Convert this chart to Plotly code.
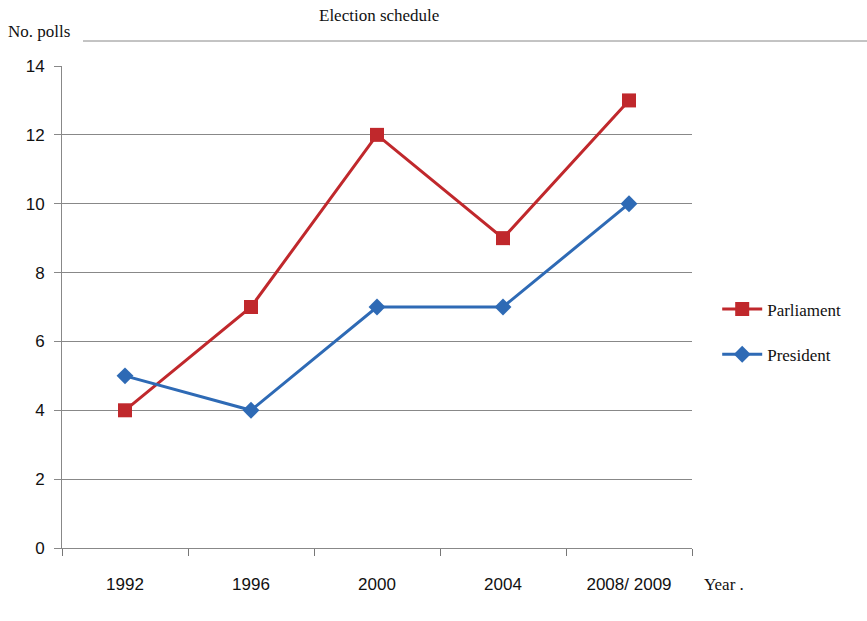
import plotly.graph_objects as go

years = ["1992", "1996", "2000", "2004", "2008/ 2009"]
parliament = [4, 7, 12, 9, 13]
president = [5, 4, 7, 7, 10]

fig = go.Figure()
fig.add_trace(go.Scatter(
    x=years, y=parliament, name="Parliament", mode="lines+markers",
    line=dict(color="#C0282C", width=3),
    marker=dict(symbol="square", size=14, color="#C0282C"),
    legendgroup="a"))
fig.add_trace(go.Scatter(
    x=years, y=president, name="President", mode="lines+markers",
    line=dict(color="#2E6AB5", width=3),
    marker=dict(symbol="diamond", size=13, color="#2E6AB5"),
    legendgroup="b"))

fig.update_layout(
    width=867, height=621,
    margin=dict(l=62, r=175, t=66, b=73),
    plot_bgcolor="white", paper_bgcolor="white",
    showlegend=True,
    legend=dict(x=1.04, y=0.448, xanchor="left", yanchor="middle",
                font=dict(family="Liberation Serif", size=17, color="#111"),
                itemwidth=40,
                tracegroupgap=20, bgcolor="rgba(0,0,0,0)"),
    xaxis=dict(type="category", tickson="boundaries", ticks="outside", ticklen=7,
               tickcolor="#777", showline=True, linecolor="#888", linewidth=1,
               showgrid=False, range=[-0.5, 4.5], ticklabelstandoff=21,
               tickfont=dict(family="Liberation Sans", size=17, color="#111")),
    yaxis=dict(range=[0, 14], dtick=2, ticks="outside", ticklen=7, tickcolor="#888",
               showline=True, linecolor="#888", linewidth=1, ticklabelstandoff=6,
               showgrid=True, gridcolor="#888", gridwidth=1, zeroline=False,
               tickfont=dict(family="Liberation Sans", size=17, color="#111")),
)

fig.add_annotation(text="Election schedule", xref="paper", yref="paper",
                   x=(379 - 62) / 630, y=(548 - 16) / 482, xanchor="center", yanchor="middle",
                   showarrow=False, font=dict(family="Liberation Serif", size=17, color="#111"))
fig.add_annotation(text="No. polls", xref="paper", yref="paper",
                   x=(6 - 62) / 630, y=(548 - 31) / 482, xanchor="left", yanchor="middle",
                   showarrow=False, font=dict(family="Liberation Serif", size=17, color="#111"))
fig.add_annotation(text="Year .", xref="paper", yref="paper",
                   x=(702 - 62) / 630, y=(548 - 584) / 482, xanchor="left", yanchor="middle",
                   showarrow=False, font=dict(family="Liberation Serif", size=17, color="#111"))
fig.add_shape(type="line", xref="paper", yref="paper",
              x0=(83 - 62) / 630, x1=(867 - 62) / 630,
              y0=(548 - 41) / 482, y1=(548 - 41) / 482,
              line=dict(color="#888", width=1))

fig.write_html("out.html")
